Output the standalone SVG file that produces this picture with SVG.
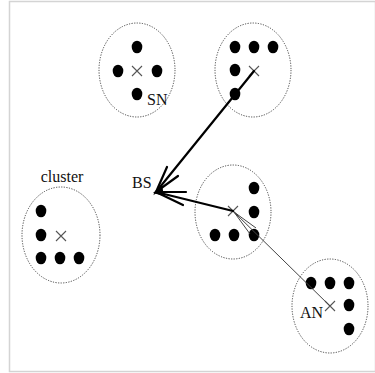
<svg xmlns="http://www.w3.org/2000/svg" width="375" height="373" viewBox="0 0 375 373">
<style>
.cl{fill:none;stroke:#444;stroke-width:1;stroke-dasharray:1.2 1.4}
.d{fill:#000}
.x{stroke:#555;stroke-width:1.1;fill:none}
.t{font-family:"Liberation Serif","Times New Roman",serif;font-size:16px;fill:#111}
.thick{stroke:#000;stroke-width:2.2;fill:none;stroke-linecap:round}
.thin{stroke:#444;stroke-width:1;fill:none}
</style>
<defs>
<g id="xm"><path class="x" d="M-5,-5L5,5M-5,5L5,-5"/></g>
</defs>
<rect x="0" y="0" width="375" height="373" fill="#fff"/>
<rect x="9.5" y="1.5" width="366" height="370" fill="none" stroke="#d4d4d4" stroke-width="1.5"/>

<g id="cluster-sn">
<ellipse class="cl" cx="137" cy="70" rx="38" ry="47"/>
<ellipse class="d" cx="137" cy="47" rx="5.3" ry="6.3"/>
<ellipse class="d" cx="118" cy="71" rx="5.3" ry="6.3"/>
<ellipse class="d" cx="157" cy="71" rx="5.3" ry="6.3"/>
<ellipse class="d" cx="137" cy="94" rx="5.3" ry="6.3"/>
<use href="#xm" x="137" y="71"/>
<text class="t" x="147" y="105">SN</text>
</g>

<g id="cluster-tr">
<ellipse class="cl" cx="253" cy="70" rx="38" ry="47"/>
<ellipse class="d" cx="235" cy="47" rx="5.3" ry="6.3"/>
<ellipse class="d" cx="254" cy="47" rx="5.3" ry="6.3"/>
<ellipse class="d" cx="273" cy="47" rx="5.3" ry="6.3"/>
<ellipse class="d" cx="235" cy="70" rx="5.3" ry="6.3"/>
<ellipse class="d" cx="235" cy="94" rx="5.3" ry="6.3"/>
<use href="#xm" x="254" y="71"/>
</g>

<g id="cluster-mid">
<ellipse class="cl" cx="233" cy="212" rx="38" ry="47"/>
<ellipse class="d" cx="254" cy="188" rx="5.3" ry="6.3"/>
<ellipse class="d" cx="254" cy="212" rx="5.3" ry="6.3"/>
<ellipse class="d" cx="215" cy="235" rx="5.3" ry="6.3"/>
<ellipse class="d" cx="234" cy="235" rx="5.3" ry="6.3"/>
<ellipse class="d" cx="254" cy="235" rx="5.3" ry="6.3"/>
<use href="#xm" x="233" y="211"/>
</g>

<g id="cluster-left">
<ellipse class="cl" cx="61" cy="235" rx="39" ry="48"/>
<ellipse class="d" cx="41" cy="211" rx="5.3" ry="6.3"/>
<ellipse class="d" cx="41" cy="235" rx="5.3" ry="6.3"/>
<ellipse class="d" cx="41" cy="258" rx="5.3" ry="6.3"/>
<ellipse class="d" cx="60" cy="258" rx="5.3" ry="6.3"/>
<ellipse class="d" cx="79" cy="258" rx="5.3" ry="6.3"/>
<use href="#xm" x="61" y="236"/>
<text class="t" x="62" y="182" text-anchor="middle">cluster</text>
</g>

<g id="cluster-an">
<ellipse class="cl" cx="330" cy="306" rx="38" ry="47"/>
<ellipse class="d" cx="311" cy="283" rx="5.3" ry="6.3"/>
<ellipse class="d" cx="330" cy="283" rx="5.3" ry="6.3"/>
<ellipse class="d" cx="349" cy="283" rx="5.3" ry="6.3"/>
<ellipse class="d" cx="349" cy="305" rx="5.3" ry="6.3"/>
<ellipse class="d" cx="349" cy="329" rx="5.3" ry="6.3"/>
<use href="#xm" x="330" y="306"/>
<text class="t" x="323" y="318" text-anchor="end">AN</text>
</g>

<g id="bs">
<text class="t" x="132" y="188">BS</text>
</g>

<g id="connectors">
<path class="thin" d="M330,306L234,212"/>
<path class="thin" d="M234,212L256,228M234,212L250,234"/>
<path class="thick" d="M254,71L156,192"/>
<path class="thick" d="M178,176L156,192L167,167"/>
<path class="thick" d="M233,211L156,192"/>
<path class="thick" d="M186,192L156,192L183,205"/>
<polygon points="153,193 162,185 164,196" fill="#000"/>
</g>
</svg>
